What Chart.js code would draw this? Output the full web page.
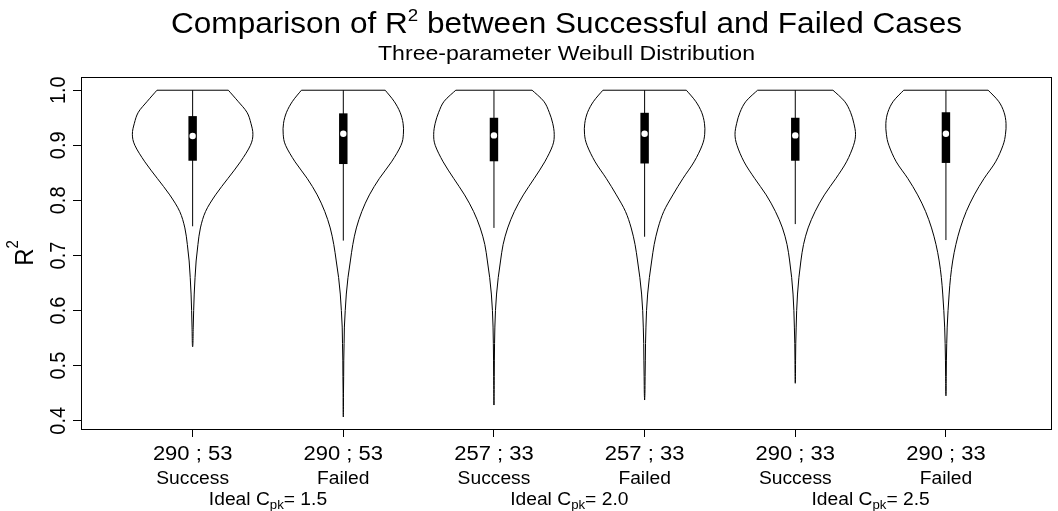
<!DOCTYPE html>
<html>
<head>
<meta charset="utf-8">
<title>R² violin plot</title>
<script src="https://cdn.jsdelivr.net/npm/chart.js@4"></script>
<style>
  html, body { margin: 0; padding: 0; background: #fff; }
  #wrap { width: 1058px; height: 511px; }
</style>
</head>
<body>
<div id="wrap"><canvas id="violinChart"></canvas></div>
<script>
// CATEGORIES
const pairLabels = ["290 ; 53", "290 ; 53", "257 ; 33", "257 ; 33", "290 ; 33", "290 ; 33"];
const outcomeLabels = ["Success", "Failed", "Success", "Failed", "Success", "Failed"];
const cpkValues = ["1.5", "2.0", "2.5"];
const xTicks = [1, 2, 3, 4, 5, 6];
const yTicks = [0.4, 0.5, 0.6, 0.7, 0.8, 0.9, 1.0];

// BOX STATS
const q1 = [0.872, 0.866, 0.871, 0.867, 0.872, 0.868];
const medians = [0.917, 0.921, 0.918, 0.921, 0.918, 0.921];
const q3 = [0.953, 0.958, 0.950, 0.959, 0.950, 0.960];
const whiskerLow = [0.753, 0.727, 0.750, 0.734, 0.757, 0.728];
const whiskerHigh = [1.0, 1.0, 1.0, 1.0, 1.0, 1.0];
const dataMin = [0.534, 0.407, 0.4285, 0.4376, 0.468, 0.445];

// KERNEL DENSITY (scaled to 1 at the peak), read at these R² levels
const densityLevels = [1.0, 0.98, 0.96, 0.94, 0.92, 0.90, 0.87, 0.84, 0.81, 0.78, 0.75,
                       0.72, 0.69, 0.66, 0.63, 0.60, 0.57, 0.54, 0.51, 0.48, 0.45, 0.42];
const density1 = [0.592, 0.752, 0.901, 0.967, 1.0, 0.959, 0.793, 0.587, 0.380, 0.215, 0.129,
                  0.088, 0.058, 0.040, 0.026, 0.017, 0.010, 0.005];
const density2 = [0.695, 0.842, 0.942, 0.992, 0.997, 0.958, 0.800, 0.600, 0.433, 0.308, 0.217,
                  0.158, 0.117, 0.078, 0.050, 0.032, 0.018, 0.013, 0.008, 0.006, 0.003, 0.002];
const density3 = [0.633, 0.826, 0.917, 0.975, 1.0, 0.975, 0.843, 0.669, 0.488, 0.339, 0.228,
                  0.152, 0.109, 0.071, 0.043, 0.025, 0.015, 0.010, 0.007, 0.005, 0.003];
const density4 = [0.692, 0.846, 0.946, 0.993, 0.997, 0.955, 0.821, 0.637, 0.469, 0.318, 0.223,
                  0.159, 0.117, 0.079, 0.050, 0.032, 0.022, 0.015, 0.012, 0.008, 0.005];
const density5 = [0.625, 0.817, 0.917, 0.972, 1.0, 0.967, 0.850, 0.675, 0.483, 0.330, 0.213,
                  0.137, 0.093, 0.060, 0.037, 0.023, 0.015, 0.008, 0.005, 0.003];
const density6 = [0.700, 0.873, 0.964, 0.997, 0.988, 0.947, 0.824, 0.634, 0.470, 0.338, 0.239,
                  0.165, 0.112, 0.076, 0.053, 0.035, 0.021, 0.013, 0.008, 0.005, 0.002];
const densities = [density1, density2, density3, density4, density5, density6];

const VIOLIN_HALF = 0.4;   // max half width, x units
const BOX_HALF = 0.028;
const FONT = '"Liberation Sans", Arial, Helvetica, sans-serif';
const SX = 1.1;            // text is a little wide

// catmull-rom through pts, current point must already be pts[0]
function spline(ctx, pts) {
  for (let i = 0; i < pts.length - 1; i++) {
    const p0 = pts[Math.max(i - 1, 0)], p1 = pts[i], p2 = pts[i + 1];
    const p3 = pts[Math.min(i + 2, pts.length - 1)];
    ctx.bezierCurveTo(
      p1.px + (p2.px - p0.px) / 6, p1.py + (p2.py - p0.py) / 6,
      p2.px - (p3.px - p1.px) / 6, p2.py - (p3.py - p1.py) / 6,
      p2.px, p2.py);
  }
}

// text with super/subscripts: parts = [{t, size, dy}]
function richText(ctx, parts, x, y, align, rotate) {
  ctx.save();
  ctx.translate(x, y);
  ctx.scale(SX, 1);
  if (rotate) ctx.rotate(-Math.PI / 2);
  ctx.fillStyle = "#000";
  ctx.textBaseline = "alphabetic";
  ctx.textAlign = "left";
  let total = 0;
  const widths = parts.map(p => {
    ctx.font = p.size + "px " + FONT;
    const w = ctx.measureText(p.t).width;
    total += w;
    return w;
  });
  let cx = align === "center" ? -total / 2 : 0;
  parts.forEach((p, i) => {
    ctx.font = p.size + "px " + FONT;
    ctx.fillText(p.t, cx, p.dy || 0);
    cx += widths[i];
  });
  ctx.restore();
}

const violinPlugin = {
  id: "violins",
  beforeDatasetsDraw(chart) {
    const { ctx, scales: { x, y } } = chart;
    ctx.save();
    ctx.strokeStyle = "#000";
    ctx.fillStyle = "#000";
    ctx.lineWidth = 1;
    densities.forEach((dens, i) => {
      const c = xTicks[i];
      const cx = x.getPixelForValue(c);
      const right = dens.map((d, j) => ({
        px: x.getPixelForValue(c + d * VIOLIN_HALF),
        py: y.getPixelForValue(densityLevels[j])
      }));
      right.push({ px: cx, py: y.getPixelForValue(dataMin[i]) });
      const left = right.map(p => ({ px: 2 * cx - p.px, py: p.py })).reverse();

      // outline, flat at the top
      ctx.beginPath();
      ctx.moveTo(left[left.length - 1].px, left[left.length - 1].py);
      ctx.lineTo(right[0].px, right[0].py);
      spline(ctx, right);
      spline(ctx, left);
      ctx.closePath();
      ctx.stroke();

      // whisker
      ctx.beginPath();
      ctx.moveTo(cx, y.getPixelForValue(whiskerHigh[i]));
      ctx.lineTo(cx, y.getPixelForValue(whiskerLow[i]));
      ctx.stroke();

      // box
      const bl = x.getPixelForValue(c - BOX_HALF);
      const br = x.getPixelForValue(c + BOX_HALF);
      const bt = y.getPixelForValue(q3[i]);
      const bb = y.getPixelForValue(q1[i]);
      ctx.fillRect(bl, bt, br - bl, bb - bt);
    });
    ctx.restore();
  },
  afterDraw(chart) {
    const { ctx, chartArea: a, scales: { x, y } } = chart;
    ctx.save();
    ctx.strokeStyle = "#000";
    ctx.lineWidth = 1;
    ctx.strokeRect(Math.round(a.left) + 0.5, Math.round(a.top) + 0.5,
                   Math.round(a.right - a.left) - 1, Math.round(a.bottom - a.top));
    ctx.restore();

    const mid = (a.left + a.right) / 2;
    // title
    richText(ctx, [
      { t: "Comparison of R", size: 28.7 },
      { t: "2", size: 17, dy: -12.5 },
      { t: " between Successful and Failed Cases", size: 28.7 }
    ], mid, 33, "center");
    richText(ctx, [{ t: "Three-parameter Weibull Distribution", size: 21 }], mid, 59.5, "center");

    // y axis
    yTicks.forEach(v => {
      richText(ctx, [{ t: v.toFixed(1), size: 20 }], 65, y.getPixelForValue(v), "center", true);
    });
    richText(ctx, [{ t: "R", size: 24 }, { t: "2", size: 15, dy: -13.5 }],
             33, (a.top + a.bottom) / 2, "center", true);

    // x axis, three lines
    xTicks.forEach((v, i) => {
      const px = x.getPixelForValue(v);
      richText(ctx, [{ t: pairLabels[i], size: 20 }], px, 460, "center");
      richText(ctx, [{ t: outcomeLabels[i], size: 17.5 }], px, 483.5, "center");
    });
    cpkValues.forEach((c, k) => {
      const px = x.getPixelForValue(xTicks[2 * k] + 0.5);
      richText(ctx, [
        { t: "Ideal C", size: 17.5 },
        { t: "pk", size: 12, dy: 4 },
        { t: "= " + c, size: 17.5 }
      ], px, 504.5, "center");
    });
  }
};

new Chart(document.getElementById("violinChart"), {
  type: "scatter",
  data: {
    datasets: [{
      data: medians.map((m, i) => ({ x: xTicks[i], y: m })),
      pointRadius: 3.2,
      pointBackgroundColor: "#fff",
      pointBorderWidth: 0
    }]
  },
  options: {
    responsive: true,
    maintainAspectRatio: false,
    devicePixelRatio: 1,
    animation: false,
    events: [],
    layout: { padding: { top: 77, right: 6, left: 0, bottom: 0 } },
    plugins: { legend: { display: false }, tooltip: { enabled: false } },
    scales: {
      x: {
        type: "linear",
        min: 0.259,
        max: 6.704,
        afterBuildTicks: s => { s.ticks = xTicks.map(v => ({ value: v })); },
        afterFit: s => { s.height = 82; },
        ticks: { display: false },
        grid: { drawOnChartArea: false, drawTicks: true, tickLength: 8, color: "#000" },
        border: { display: false }
      },
      y: {
        min: 0.385,
        max: 1.024,
        afterBuildTicks: s => { s.ticks = yTicks.map(v => ({ value: v })); },
        afterFit: s => { s.width = 81; },
        ticks: { display: false },
        grid: { drawOnChartArea: false, drawTicks: true, tickLength: 8, color: "#000" },
        border: { display: false }
      }
    }
  },
  plugins: [violinPlugin]
});
</script>
</body>
</html>
